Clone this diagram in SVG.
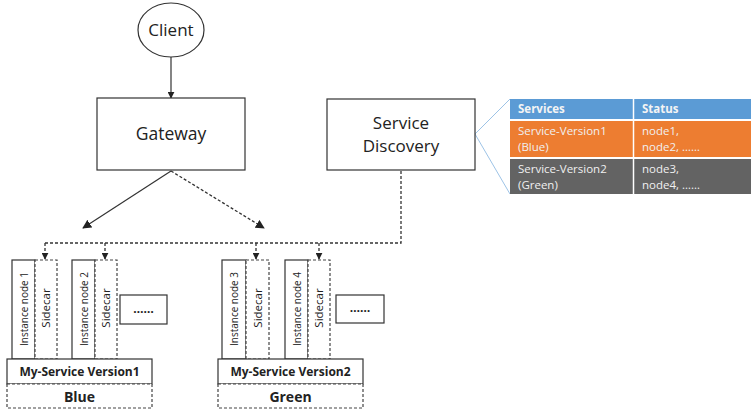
<svg xmlns="http://www.w3.org/2000/svg" width="752" height="411" viewBox="0 0 752 411">
  <defs>
    <marker id="arrow" viewBox="0 0 10 10" refX="9" refY="5" markerWidth="7" markerHeight="7" markerUnits="userSpaceOnUse" orient="auto">
      <path d="M0,0 L10,5 L0,10 z" fill="#222"/>
    </marker>
    <marker id="arrowBig" viewBox="0 0 10 10" refX="9" refY="5" markerWidth="9" markerHeight="9" markerUnits="userSpaceOnUse" orient="auto">
      <path d="M0,0 L10,5 L0,10 z" fill="#222"/>
    </marker>
  </defs>
  <style>
    .box { fill: #fff; stroke: #333; stroke-width: 1.2; }
    .dbox { fill: #fff; stroke: #444; stroke-width: 1.2; stroke-dasharray: 3 2; }
    .line { fill: none; stroke: #333; stroke-width: 1.2; }
    .dline { fill: none; stroke: #333; stroke-width: 1.3; stroke-dasharray: 3 2; }
    .callout { fill: none; stroke: #9dc3e6; stroke-width: 1; }
    .label { font-family: "Open Sans", "DejaVu Sans", sans-serif; fill: #222; text-anchor: middle; }
    .vlabel { font-family: "Open Sans", "DejaVu Sans", sans-serif; font-size: 11.5px; fill: #222; text-anchor: middle; }
    .blabel { font-family: "Open Sans", "DejaVu Sans", sans-serif; font-weight: bold; fill: #222; text-anchor: middle; }
    .th { font-family: "Open Sans", "DejaVu Sans", sans-serif; font-size: 11.5px; font-weight: bold; fill: #f4f4f4; }
    .td { font-family: "Open Sans", "DejaVu Sans", sans-serif; font-size: 11.5px; fill: #f0f0f0; }
  </style>

  <rect width="752" height="411" fill="#fff"/>

  <!-- connectors -->
  <g id="connectors">
    <line class="line" x1="171" y1="57" x2="171" y2="98" marker-end="url(#arrow)"/>
    <line class="line" x1="171" y1="171" x2="83" y2="228" marker-end="url(#arrowBig)"/>
    <line class="dline" x1="171" y1="171" x2="264" y2="228" marker-end="url(#arrowBig)"/>
    <polyline class="dline" points="401,171 401,243 45,243"/>
    <line class="dline" x1="45" y1="243" x2="45" y2="259" marker-end="url(#arrow)"/>
    <line class="dline" x1="105" y1="243" x2="105" y2="259" marker-end="url(#arrow)"/>
    <line class="dline" x1="256" y1="243" x2="256" y2="259" marker-end="url(#arrow)"/>
    <line class="dline" x1="319" y1="243" x2="319" y2="259" marker-end="url(#arrow)"/>
    <polyline class="callout" points="510,99 475,134 510,194"/>
  </g>

  <!-- client -->
  <g id="client">
    <ellipse class="box" cx="171" cy="30" rx="33" ry="27"/>
    <text class="label" x="171" y="36" font-size="17">Client</text>
  </g>

  <!-- gateway -->
  <g id="gateway">
    <rect class="box" x="97" y="98" width="148" height="72"/>
    <text class="label" x="171" y="140" font-size="17.5">Gateway</text>
  </g>

  <!-- service discovery -->
  <g id="service-discovery">
    <rect class="box" x="327" y="99" width="148" height="71"/>
    <text class="label" x="401" y="129" font-size="17">Service</text>
    <text class="label" x="401" y="152" font-size="17">Discovery</text>
  </g>

  <!-- registry table -->
  <g id="registry-table">
    <rect x="510" y="99" width="241" height="20" fill="#5b9bd5"/>
    <rect x="510" y="121" width="241" height="36" fill="#ed7d31"/>
    <rect x="510" y="159" width="241" height="35" fill="#636363"/>
    <line x1="633.5" y1="99" x2="633.5" y2="194" stroke="#fff" stroke-width="1.5"/>
    <text class="th" x="518" y="113">Services</text>
    <text class="th" x="642" y="113">Status</text>
    <text class="td" x="518" y="135">Service-Version1</text>
    <text class="td" x="518" y="151">(Blue)</text>
    <text class="td" x="642" y="135">node1,</text>
    <text class="td" x="642" y="151">node2, ……</text>
    <text class="td" x="518" y="173">Service-Version2</text>
    <text class="td" x="518" y="189">(Green)</text>
    <text class="td" x="642" y="173">node3,</text>
    <text class="td" x="642" y="189">node4, ……</text>
  </g>

  <!-- blue version -->
  <g id="instance-node-1">
    <rect class="box" x="12" y="260" width="23" height="99"/>
    <text class="vlabel" transform="translate(27.5,309) rotate(-90)" textLength="74" lengthAdjust="spacingAndGlyphs">Instance node 1</text>
  </g>
  <g id="sidecar-1">
    <rect class="dbox" x="35" y="260" width="22" height="99"/>
    <text class="vlabel" transform="translate(50,308) rotate(-90)">Sidecar</text>
  </g>
  <g id="instance-node-2">
    <rect class="box" x="72" y="260" width="23" height="99"/>
    <text class="vlabel" transform="translate(87.5,309) rotate(-90)" textLength="74" lengthAdjust="spacingAndGlyphs">Instance node 2</text>
  </g>
  <g id="sidecar-2">
    <rect class="dbox" x="95" y="260" width="22" height="99"/>
    <text class="vlabel" transform="translate(110,308) rotate(-90)">Sidecar</text>
  </g>
  <g id="more-blue">
    <rect class="box" x="120" y="295" width="47" height="29"/>
    <text class="label" x="143.5" y="313" font-size="12" font-weight="bold">……</text>
  </g>
  <g id="my-service-v1">
    <rect class="box" x="7" y="359" width="145" height="25"/>
    <text class="blabel" x="79.5" y="376" font-size="12">My-Service Version1</text>
  </g>
  <g id="blue">
    <rect class="dbox" x="7" y="384" width="145" height="24"/>
    <text class="blabel" x="79.5" y="402" font-size="14">Blue</text>
  </g>

  <!-- green version -->
  <g id="instance-node-3">
    <rect class="box" x="222" y="260" width="24" height="99"/>
    <text class="vlabel" transform="translate(238,309) rotate(-90)" textLength="74" lengthAdjust="spacingAndGlyphs">Instance node 3</text>
  </g>
  <g id="sidecar-3">
    <rect class="dbox" x="246" y="260" width="23" height="99"/>
    <text class="vlabel" transform="translate(261.5,308) rotate(-90)">Sidecar</text>
  </g>
  <g id="instance-node-4">
    <rect class="box" x="285" y="260" width="23" height="99"/>
    <text class="vlabel" transform="translate(300.5,309) rotate(-90)" textLength="74" lengthAdjust="spacingAndGlyphs">Instance node 4</text>
  </g>
  <g id="sidecar-4">
    <rect class="dbox" x="308" y="260" width="22" height="99"/>
    <text class="vlabel" transform="translate(323,308) rotate(-90)">Sidecar</text>
  </g>
  <g id="more-green">
    <rect class="box" x="336" y="295" width="48" height="28"/>
    <text class="label" x="360" y="312" font-size="12" font-weight="bold">……</text>
  </g>
  <g id="my-service-v2">
    <rect class="box" x="218" y="359" width="145" height="25"/>
    <text class="blabel" x="290.5" y="376" font-size="12">My-Service Version2</text>
  </g>
  <g id="green">
    <rect class="dbox" x="218" y="384" width="145" height="24"/>
    <text class="blabel" x="290.5" y="402" font-size="14">Green</text>
  </g>
</svg>
